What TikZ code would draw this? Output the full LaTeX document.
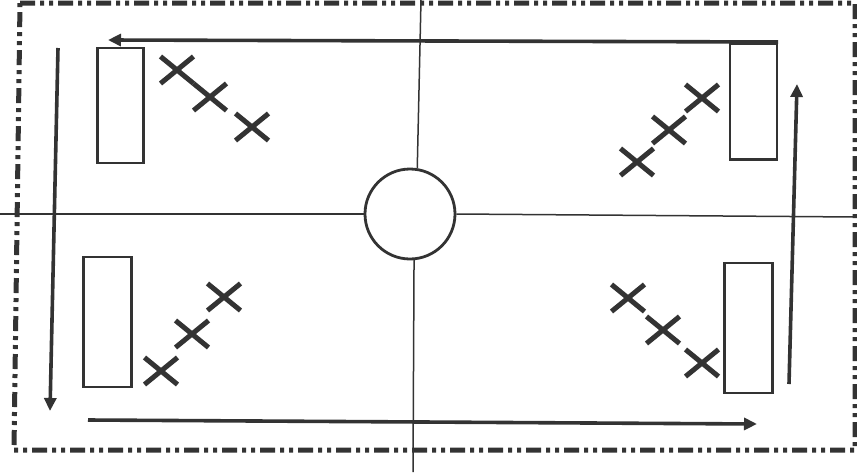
\documentclass[tikz,border=0pt]{standalone}
\usetikzlibrary{arrows.meta,shapes.misc}
\begin{document}
\begin{tikzpicture}[x=1pt,y=-1pt,
  ink/.style={draw=black!80},
  box/.style={ink,line width=2.8pt},
  flow/.style={ink,line width=3.6pt,-{Triangle[length=13pt,width=12pt]}},
  xmark/.style={cross out,draw=black!80,line width=5pt,minimum width=28pt,minimum height=22pt,inner sep=0pt},
  thin/.style={ink,line width=1.5pt},
  frame/.style={ink,line width=5pt,dash pattern=on 15pt off 5pt on 4pt off 5pt on 4pt off 5pt}]
\useasboundingbox (0,0) rectangle (857,472);
% frame
\draw[frame] (20,3) -- (855,3) -- (855,450) -- (14,450) -- cycle;
% hub
\node[ink,circle,line width=2.8pt,minimum size=90pt,inner sep=0pt] (hub) at (410,214) {};
\coordinate (ntop) at (421,0);
\coordinate (nbot) at (413,472);
\coordinate (wl) at (0,214);
\coordinate (er) at (857,217);
\draw[thin] (hub.81) -- (ntop);
\draw[thin] (hub.-85) -- (nbot);
\draw[thin] (hub.west) -- (wl);
\draw[thin] (hub.east) -- (er);
% wheels
\node[box,minimum width=46pt,minimum height=115pt,inner sep=0pt] (tl) at (120.5,105.5) {};
\node[box,minimum width=47pt,minimum height=116pt,inner sep=0pt] (tr) at (753.5,101.5) {};
\node[box,minimum width=48pt,minimum height=130pt,inner sep=0pt] (bl) at (107.5,322) {};
\node[box,minimum width=48pt,minimum height=130pt,inner sep=0pt] (br) at (748.5,328) {};
% crosses
\node[xmark] (a1) at (177,70) {};
\node[xmark] (a2) at (210,97) {};
\node[xmark] (a3) at (252,127) {};
\node[xmark] (b1) at (702,98) {};
\node[xmark] (b2) at (669,130) {};
\node[xmark] (b3) at (637,162) {};
\node[xmark] (c1) at (224,297) {};
\node[xmark] (c2) at (192,334) {};
\node[xmark] (c3) at (161,371) {};
\node[xmark] (d1) at (628,298) {};
\node[xmark] (d2) at (663,330) {};
\node[xmark] (d3) at (702,363) {};
% flow arrows
\coordinate (t0) at (778,42);
\coordinate (t1) at (108,40);
\coordinate (l0) at (58,48);
\coordinate (l1) at (50,411);
\coordinate (b0) at (88,420);
\coordinate (b1e) at (757,424);
\coordinate (r0) at (789,384);
\coordinate (r1) at (797,84);
\draw[flow] (t0) -- (t1);
\draw[flow] (l0) -- (l1);
\draw[flow] (b0) -- (b1e);
\draw[flow] (r0) -- (r1);
\end{tikzpicture}
\end{document}
